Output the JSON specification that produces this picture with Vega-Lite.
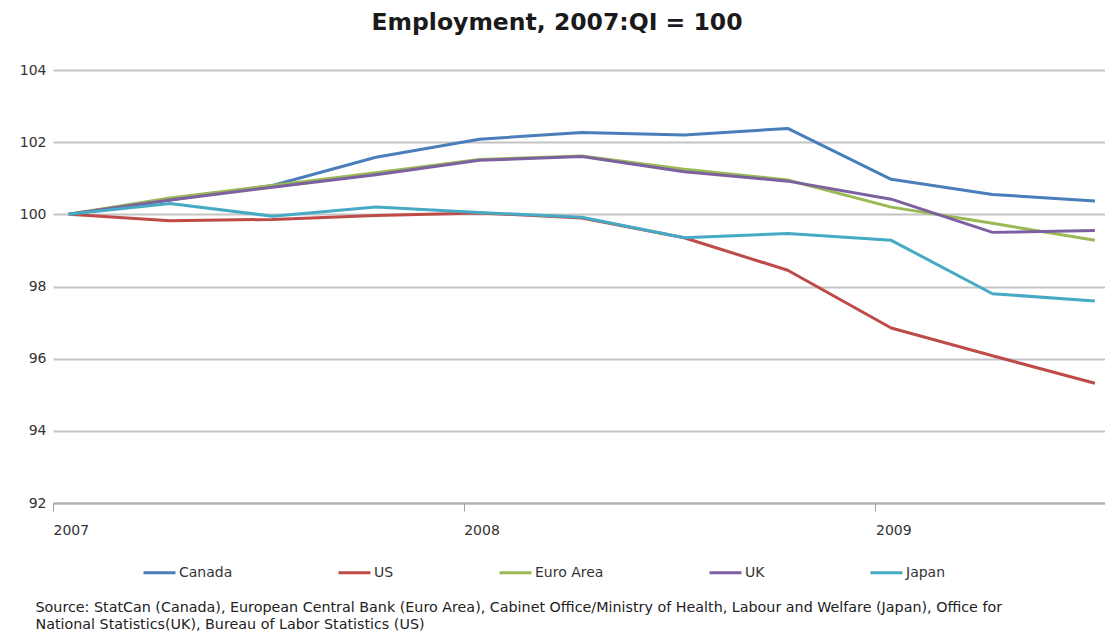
{
  "$schema": "https://vega.github.io/schema/vega-lite/v6.json",
  "width": 1052,
  "height": 433,
  "autosize": {"type": "none"},
  "padding": {"left": 53, "top": 70, "right": 0, "bottom": 138},
  "background": "white",
  "title": {
    "text": "Employment, 2007:QI = 100",
    "font": "DejaVu Sans",
    "fontSize": 23.5,
    "fontWeight": "bold",
    "color": "#1a1a1a",
    "anchor": "middle",
    "dx": -22,
    "offset": 29
  },
  "data": {
    "values": [
      {"date": "2007-01-15", "series": "Canada", "value": 100},
      {"date": "2007-04-15", "series": "Canada", "value": 100.4},
      {"date": "2007-07-15", "series": "Canada", "value": 100.8},
      {"date": "2007-10-15", "series": "Canada", "value": 101.58},
      {"date": "2008-01-15", "series": "Canada", "value": 102.08},
      {"date": "2008-04-15", "series": "Canada", "value": 102.27},
      {"date": "2008-07-15", "series": "Canada", "value": 102.2},
      {"date": "2008-10-15", "series": "Canada", "value": 102.38},
      {"date": "2009-01-15", "series": "Canada", "value": 100.97},
      {"date": "2009-04-15", "series": "Canada", "value": 100.55},
      {"date": "2009-07-15", "series": "Canada", "value": 100.37},
      {"date": "2007-01-15", "series": "US", "value": 100},
      {"date": "2007-04-15", "series": "US", "value": 99.82},
      {"date": "2007-07-15", "series": "US", "value": 99.86},
      {"date": "2007-10-15", "series": "US", "value": 99.97},
      {"date": "2008-01-15", "series": "US", "value": 100.04},
      {"date": "2008-04-15", "series": "US", "value": 99.9},
      {"date": "2008-07-15", "series": "US", "value": 99.35},
      {"date": "2008-10-15", "series": "US", "value": 98.45},
      {"date": "2009-01-15", "series": "US", "value": 96.85},
      {"date": "2009-04-15", "series": "US", "value": 96.08},
      {"date": "2009-07-15", "series": "US", "value": 95.32},
      {"date": "2007-01-15", "series": "Euro Area", "value": 100},
      {"date": "2007-04-15", "series": "Euro Area", "value": 100.45},
      {"date": "2007-07-15", "series": "Euro Area", "value": 100.8},
      {"date": "2007-10-15", "series": "Euro Area", "value": 101.15},
      {"date": "2008-01-15", "series": "Euro Area", "value": 101.52},
      {"date": "2008-04-15", "series": "Euro Area", "value": 101.62},
      {"date": "2008-07-15", "series": "Euro Area", "value": 101.25},
      {"date": "2008-10-15", "series": "Euro Area", "value": 100.95},
      {"date": "2009-01-15", "series": "Euro Area", "value": 100.2},
      {"date": "2009-04-15", "series": "Euro Area", "value": 99.75},
      {"date": "2009-07-15", "series": "Euro Area", "value": 99.28},
      {"date": "2007-01-15", "series": "UK", "value": 100},
      {"date": "2007-04-15", "series": "UK", "value": 100.4},
      {"date": "2007-07-15", "series": "UK", "value": 100.75},
      {"date": "2007-10-15", "series": "UK", "value": 101.1},
      {"date": "2008-01-15", "series": "UK", "value": 101.5},
      {"date": "2008-04-15", "series": "UK", "value": 101.6},
      {"date": "2008-07-15", "series": "UK", "value": 101.18},
      {"date": "2008-10-15", "series": "UK", "value": 100.92},
      {"date": "2009-01-15", "series": "UK", "value": 100.42},
      {"date": "2009-04-15", "series": "UK", "value": 99.5},
      {"date": "2009-07-15", "series": "UK", "value": 99.55},
      {"date": "2007-01-15", "series": "Japan", "value": 100},
      {"date": "2007-04-15", "series": "Japan", "value": 100.3},
      {"date": "2007-07-15", "series": "Japan", "value": 99.95},
      {"date": "2007-10-15", "series": "Japan", "value": 100.2},
      {"date": "2008-01-15", "series": "Japan", "value": 100.05},
      {"date": "2008-04-15", "series": "Japan", "value": 99.92},
      {"date": "2008-07-15", "series": "Japan", "value": 99.35},
      {"date": "2008-10-15", "series": "Japan", "value": 99.47},
      {"date": "2009-01-15", "series": "Japan", "value": 99.28},
      {"date": "2009-04-15", "series": "Japan", "value": 97.8},
      {"date": "2009-07-15", "series": "Japan", "value": 97.6}
    ]
  },
  "mark": {"type": "line", "strokeWidth": 3, "strokeJoin": "round"},
  "encoding": {
    "x": {
      "field": "date",
      "type": "temporal",
      "scale": {
        "type": "utc",
        "domain": [
          {"year": 2007, "month": 1, "date": 1, "utc": true},
          {"year": 2009, "month": 7, "date": 24, "utc": true}
        ]
      },
      "axis": {
        "values": [
          {"year": 2007, "month": 1, "date": 1, "utc": true},
          {"year": 2008, "month": 1, "date": 1, "utc": true},
          {"year": 2009, "month": 1, "date": 1, "utc": true}
        ],
        "format": "%Y",
        "formatType": "utc",
        "grid": false,
        "domainColor": "#b0b0b0",
        "domainWidth": 2,
        "tickColor": "#a0a0a0",
        "tickWidth": 1,
        "tickSize": 8,
        "labelAlign": "left",
        "labelFlush": false,
        "labelPadding": 12,
        "labelFont": "DejaVu Sans",
        "labelFontSize": 14,
        "labelColor": "#333333",
        "title": ["Source: StatCan (Canada), European Central Bank (Euro Area),  Cabinet Office/Ministry of Health, Labour and Welfare (Japan), Office for", "National Statistics(UK), Bureau of Labor Statistics (US)"],
        "titleAnchor": "start",
        "titleAlign": "left",
        "titleBaseline": "top",
        "titleX": -18,
        "titleY": 97,
        "titleFont": "DejaVu Sans",
        "titleFontSize": 14.3,
        "titleFontWeight": "normal",
        "titleColor": "#222222",
        "titleLineHeight": 17
      }
    },
    "y": {
      "field": "value",
      "type": "quantitative",
      "scale": {"domain": [92, 104], "nice": false, "zero": false},
      "axis": {
        "values": [92, 94, 96, 98, 100, 102, 104],
        "grid": true,
        "gridColor": "#c4c4c4",
        "gridWidth": 2,
        "domain": false,
        "ticks": false,
        "labelPadding": 7,
        "labelFont": "DejaVu Sans",
        "labelFontSize": 14,
        "labelColor": "#333333",
        "title": null
      }
    },
    "color": {
      "field": "series",
      "type": "nominal",
      "sort": ["Canada", "US", "Euro Area", "UK", "Japan"],
      "scale": {
        "domain": ["Canada", "US", "Euro Area", "UK", "Japan"],
        "range": ["#4a7ebb", "#be4b48", "#98b954", "#7d60a0", "#46aac5"]
      },
      "legend": {
        "orient": "none",
        "legendX": 89,
        "legendY": 485,
        "direction": "horizontal",
        "title": null,
        "symbolType": "stroke",
        "symbolSize": 1024,
        "symbolStrokeWidth": 3,
        "labelOffset": 2,
        "columnPadding": 99,
        "labelFont": "DejaVu Sans",
        "labelFontSize": 14,
        "labelColor": "#333333"
      }
    }
  },
  "config": {"view": {"stroke": null}}
}
